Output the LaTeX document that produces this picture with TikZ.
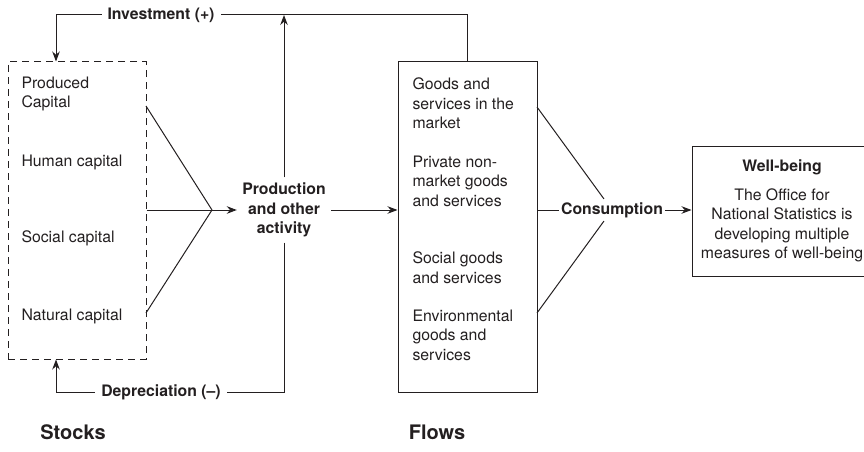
\documentclass[tikz,border=0pt]{standalone}
\usepackage{fontspec}
\setmainfont{TeX Gyre Heros}
\usetikzlibrary{positioning,arrows.meta}
\definecolor{ink}{RGB}{35,31,32}
\tikzset{>={Stealth[length=10pt,width=7.5pt]}}

\begin{document}
\begin{tikzpicture}[x=1pt,y=-1pt,line width=1pt,draw=ink,text=ink]
    \fontsize{15.8}{19.5}\selectfont
    \tikzset{
      item/.style={anchor=west, align=left, inner sep=0pt},
      flowlabel/.style={fill=white, font=\bfseries, inner xsep=6pt, inner ysep=3pt},
      box/.style={draw, inner sep=0pt},
      heading/.style={font=\bfseries\fontsize{20}{24}\selectfont},
    }
    \useasboundingbox (0,0) rectangle (864,452);

    % Boxes.
    \node [box, dash pattern=on 7pt off 5pt, minimum width=138pt, minimum height=297pt] (stocks) at (77,210.5) {};
    \node [box, minimum width=139pt, minimum height=330pt] (flows) at (467.5,227) {};
    \node [box, align=center, minimum width=180pt, minimum height=130pt] (wb) at (782,211)
      {\textbf{Well-being}\\[9.5pt] The Office for\\National Statistics is\\developing multiple\\measures of well-being};

    % Stocks.
    \node [item] (produced) at (21,94)  {Produced\\Capital};
    \node [item] (human)    at (21,162) {Human capital};
    \node [item] (social)   at (21,238) {Social capital};
    \node [item] (natural)  at (21,316) {Natural capital};

    % Flows.
    \node [item] (market)  at (412,103.5) {Goods and\\services in the\\market};
    \node [item] (private) at (412,181)   {Private non-\\market goods\\and services};
    \node [item] (socialg) at (412,267.5) {Social goods\\and services};
    \node [item] (envir)   at (412,335)   {Environmental\\goods and\\services};

    % Production.
    \node [font=\bfseries, align=center, inner sep=5pt] (prod) at (284,210) {Production\\and other\\activity};
    \coordinate (hub)   at (212,210); % where the stocks meet
    \coordinate (pcap)  at (146,106); % produced capital
    \coordinate (ncap)  at (146,313); % natural capital
    \draw (pcap) -- (hub);
    \draw (ncap) -- (hub);
    \draw (stocks.east |- hub) -- (hub);
    \draw [->] (hub) -- (prod);
    \draw [->] (prod) -- (flows.west |- prod);

    % Investment (+).
    \coordinate (invR) at (467,15);
    \coordinate (invL) at (56,15);
    \draw [->] (flows.north -| invR) -- (invR) -- (invL) -- (stocks.north -| invL);
    \draw [->] (prod) -- (prod |- invR);
    \node [flowlabel] (inv) at (161,15) {Investment (+)};

    % Depreciation (-).
    \coordinate (depR) at (284,392);
    \coordinate (depL) at (56,392);
    \draw [->] (prod) -- (depR) -- (depL) -- (stocks.south -| depL);
    \node [flowlabel] (dep) at (161,392) {Depreciation (--)};

    % Consumption.
    \node [font=\bfseries, inner xsep=1.5pt, inner ysep=3pt] (cons) at (612,210) {Consumption};
    \coordinate (gmar) at (537,107); % goods in the market
    \coordinate (genv) at (537,313); % environmental goods
    \draw (gmar) -- (cons);
    \draw (genv) -- (cons);
    \draw (flows.east |- cons) -- (cons);
    \draw [->] (cons) -- (wb.west |- cons);

    % Headings.
    \node [heading] (stockshd) at (73,432)  {Stocks};
    \node [heading] (flowshd)  at (437,432) {Flows};
\end{tikzpicture}
\end{document}
